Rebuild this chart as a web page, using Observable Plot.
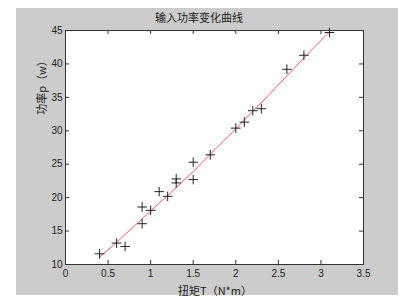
<!DOCTYPE html>
<html>
<head>
<meta charset="utf-8">
<script src="https://cdn.jsdelivr.net/npm/d3@7"></script>
<script src="https://cdn.jsdelivr.net/npm/@observablehq/plot@0.6"></script>
<style>
  html, body { margin: 0; padding: 0; background: #ffffff; }
  #wrap { position: relative; width: 406px; height: 302px; overflow: hidden; }
  #bg { position: absolute; left: 16px; top: 8px; width: 382px; height: 287px; background: #cccccc; }
  #chart { position: absolute; left: 0; top: 0; }
  .lbl { position: absolute; font-family: "Noto Sans CJK SC", sans-serif; color: #222; white-space: nowrap; }
</style>
</head>
<body>
<div id="wrap">
  <div id="bg"></div>
  <div id="chart"></div>
  <div class="lbl" id="title" style="left:0;width:406px;top:9px;text-align:center;font-size:11px;padding-left:0px;">
    <span style="position:relative;left:-4px;">输入功率变化曲线</span></div>
  <div class="lbl" id="xlab" style="left:170px;width:90px;top:284px;text-align:center;font-size:11px;line-height:12px;">扭矩T（N*m）</div>
  <div class="lbl" id="ylab" style="left:41px;top:85px;font-size:11px;line-height:12px;transform:translate(-50%,-50%) rotate(-90deg);">功率p（w）</div>
</div>
<script>
// measured points
const torque = [0.4, 0.6, 0.7, 0.9, 0.9, 1.0, 1.1, 1.2, 1.3, 1.3, 1.5, 1.5, 1.7, 2.0, 2.1, 2.2, 2.3, 2.6, 2.8, 3.1];
const power  = [11.6, 13.2, 12.7, 18.6, 16.1, 18.1, 20.9, 20.2, 22.8, 22.2, 25.3, 22.7, 26.4, 30.4, 31.3, 33.0, 33.3, 39.2, 41.3, 44.7];
// fitted curve
const fitX = [0.4, 0.6, 0.7, 0.9, 1.0, 1.1, 1.2, 1.3, 1.5, 1.7, 2.0, 2.1, 2.2, 2.3, 2.6, 2.8, 3.1];
const fitY = [11.1, 13.3, 14.5, 16.8, 18.0, 19.2, 20.3, 21.5, 23.9, 26.5, 30.3, 31.6, 32.9, 34.2, 38.2, 40.9, 44.8];
// axis ticks
const xTicks = [0, 0.5, 1, 1.5, 2, 2.5, 3, 3.5];
const yTicks = [10, 15, 20, 25, 30, 35, 40, 45];

const pts = torque.map((t, i) => ({x: t, y: power[i]}));
const fit = fitX.map((t, i) => ({x: t, y: fitY[i]}));

const W = 406, H = 302;
const mL = 65, mR = 43, mT = 30, mB = 38;
const fw = W - mL - mR, fh = H - mT - mB;

const chart = Plot.plot({
  width: W, height: H,
  marginLeft: mL, marginRight: mR, marginTop: mT, marginBottom: mB,
  style: {background: "transparent", fontFamily: "'Liberation Sans', Arial, sans-serif", fontSize: "10px", color: "#222"},
  x: {domain: [0, 3.5], ticks: xTicks, tickFormat: d => String(d)},
  y: {domain: [10, 45], ticks: yTicks, tickFormat: d => String(d)},
  marks: [
    Plot.frame({fill: "white"}),
    Plot.tickX(xTicks, {x: d => d, insetTop: fh - 4, stroke: "#333"}),
    Plot.tickX(xTicks, {x: d => d, insetBottom: fh - 4, stroke: "#333"}),
    Plot.tickY(yTicks, {y: d => d, insetRight: fw - 4, stroke: "#333"}),
    Plot.tickY(yTicks, {y: d => d, insetLeft: fw - 4, stroke: "#333"}),
    Plot.axisX({ticks: xTicks, tickSize: 0, tickPadding: 5, label: null, tickFormat: d => String(d)}),
    Plot.axisY({ticks: yTicks, tickSize: 0, tickPadding: 3, label: null, tickFormat: d => String(d)}),
    Plot.line(fit, {x: "x", y: "y", stroke: "#ff3030", strokeWidth: 1, strokeOpacity: 0.8}),
    Plot.dot(pts, {x: "x", y: "y", symbol: "plus", r: 3.2, stroke: "#222", strokeWidth: 1}),
    Plot.frame({stroke: "#333", strokeWidth: 1})
  ]
});
document.getElementById("chart").appendChild(chart);
</script>
</body>
</html>
